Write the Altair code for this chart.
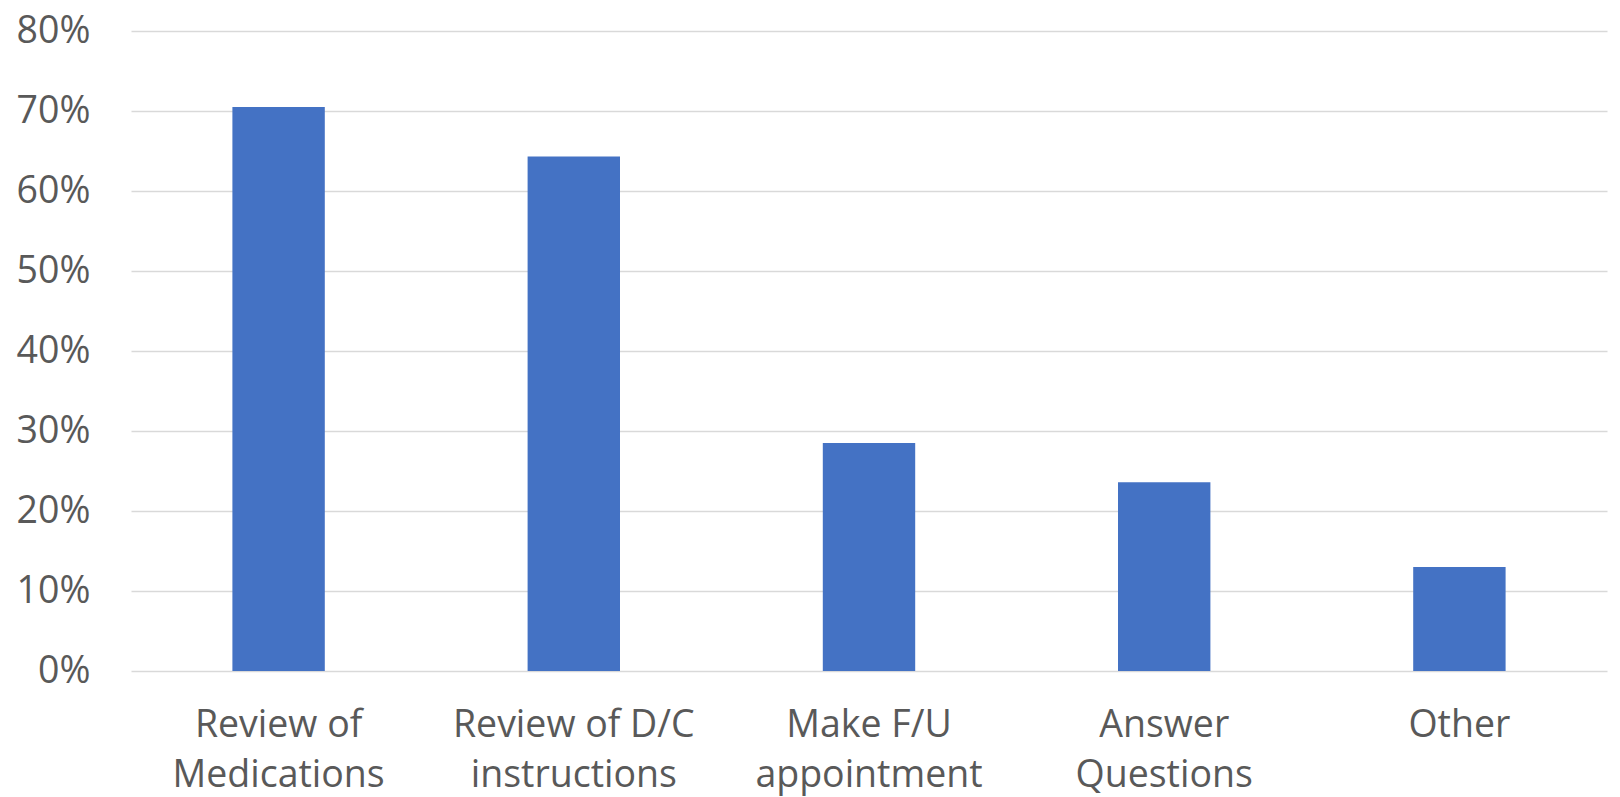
import altair as alt
import pandas as pd

categories = ["Review of\nMedications", "Review of D/C\ninstructions", "Make F/U\nappointment", "Answer\nQuestions", "Other"]
values = [0.705, 0.643, 0.285, 0.236, 0.130]

df = pd.DataFrame({"category": categories, "value": values})

FONT = "Open Sans"
GRAY = "#595959"

chart = alt.Chart(df).mark_bar(color="#4472C4").encode(
    x=alt.X("category:N", sort=categories, title=None,
            scale=alt.Scale(paddingInner=0.687, paddingOuter=0.3435),
            axis=alt.Axis(labelAngle=0, labelExpr="split(datum.value, '\\n')",
                          labelFont=FONT, labelFontSize=37.5, labelColor=GRAY,
                          labelLineHeight=50, labelPadding=35, ticks=False,
                          labelLimit=0, domain=False, grid=False, labelBaseline="top")),
    y=alt.Y("value:Q", title=None,
            scale=alt.Scale(domain=[0, 0.8], nice=False),
            axis=alt.Axis(format=".0%", values=[0, 0.1, 0.2, 0.3, 0.4, 0.5, 0.6, 0.7, 0.8],
                          labelFont=FONT, labelFontSize=37.5, labelColor=GRAY,
                          labelPadding=41, ticks=False, domain=False,
                          gridColor="#d9d9d9", gridWidth=1.3)),
).properties(
    width=1476, height=640,
    background="white",
    padding={"left": 131, "top": 31, "right": 13, "bottom": 126},
    autosize=alt.AutoSizeParams(type="none"),
).configure_view(strokeWidth=0)

chart.save("out.html", embed_options={"renderer": "svg", "actions": False})
